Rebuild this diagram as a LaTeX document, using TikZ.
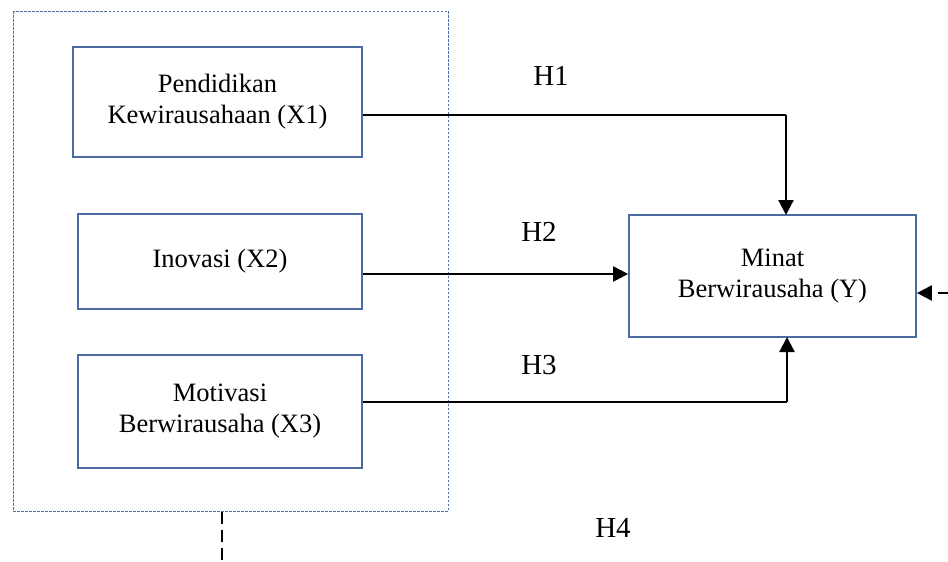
\documentclass[tikz,border=0pt]{standalone}
\usepackage{fontspec}
\setmainfont{Liberation Serif}
\usetikzlibrary{arrows.meta}
\definecolor{boxblue}{RGB}{74,108,160}
\definecolor{dashblue}{RGB}{80,110,160}
\tikzset{
  varbox/.style={draw=boxblue, line width=1.8pt, fill=white, inner sep=0pt,
    align=center, font=\fontsize{26.5}{31}\selectfont},
  tip/.style={-{Triangle[length=15pt,width=15pt]}},
  conn/.style={line width=2.2pt, tip},
  hlabel/.style={font=\fontsize{29}{34}\selectfont, inner sep=0pt},
  groupbox/.style={draw=dashblue, line width=0.9pt, dash pattern=on 2.5pt off 1.5pt},
  heavydash/.style={line width=2.4pt, dash pattern=on 12pt off 6pt}
}
\begin{document}
\begin{tikzpicture}[x=1pt,y=-1pt]
\useasboundingbox (0,0) rectangle (948,562);
% group box
\draw[groupbox] (13,11) rectangle (448,511);
% variable boxes
\node[varbox, minimum width=289pt, minimum height=110pt] (x1) at (217.5,102) {Pendidikan\\Kewirausahaan (X1)};
\node[varbox, minimum width=284pt, minimum height=95pt] (x2) at (220,261.5) {Inovasi (X2)};
\node[varbox, minimum width=284pt, minimum height=113pt] (x3) at (220,411.5) {Motivasi\\Berwirausaha (X3)};
\node[varbox, minimum width=287pt, minimum height=122pt] (y) at (772.5,276) {Minat\\Berwirausaha (Y)};
% corner coordinates
\coordinate (c1) at (786,115);
\coordinate (c3) at (787,402);
\coordinate (y1) at (786,215);
\coordinate (y3) at (787,337);
% connectors
\draw[line width=2.2pt] (x1.east |- c1) -- (c1);
\draw[conn] (c1) -- (y1);
\draw[conn] (x2.east |- 0,274) -- (y.west |- 0,274);
\draw[line width=2.2pt] (x3.east |- c3) -- (c3);
\draw[conn] (c3) -- (y3);
% H4 dashed (partly out of frame)
\coordinate (gb) at (222,512);
\coordinate (gbend) at (222,562);
\draw[heavydash] (gb) -- (gbend);
\coordinate (rin) at (948,293);
\draw[line width=2.2pt, dash pattern=on 10pt off 6pt, tip] (rin) -- (y.east |- rin);
% labels
\node[hlabel] (h1) at (551,76) {H1};
\node[hlabel] (h2) at (539,232) {H2};
\node[hlabel] (h3) at (539,365) {H3};
\node[hlabel] (h4) at (613,528) {H4};
\end{tikzpicture}
\end{document}
